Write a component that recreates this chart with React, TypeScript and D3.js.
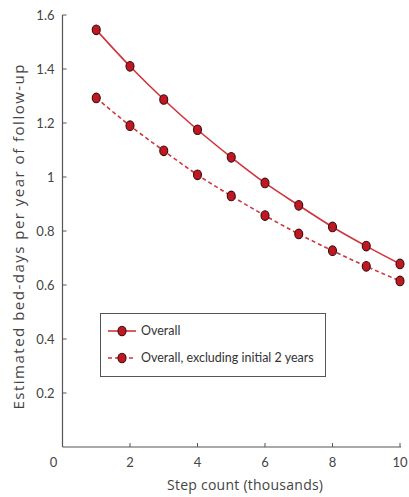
import React, { useEffect, useRef } from 'react';
import * as d3 from 'd3';

const stepCounts = [1, 2, 3, 4, 5, 6, 7, 8, 9, 10];
const overall = [1.545, 1.41, 1.287, 1.175, 1.073, 0.978, 0.895, 0.815, 0.744, 0.678];
const excluding = [1.293, 1.19, 1.097, 1.008, 0.93, 0.857, 0.789, 0.727, 0.669, 0.615];
const yTicks = [0.2, 0.4, 0.6, 0.8, 1, 1.2, 1.4, 1.6];
const xTicks = [2, 4, 6, 8, 10];
const seriesNames = ['Overall', 'Overall, excluding initial 2 years'];

const App = () => {
  const svgRef = useRef<SVGSVGElement>(null);

  useEffect(() => {
    const svg = d3.select(svgRef.current);
    svg.selectAll('*').remove();

    const left = 62.5;
    const right = 400;
    const top = 15;
    const bottom = 447;
    const font = 'Lato, "Open Sans", sans-serif';
    const titleFont = '"Open Sans", Lato, sans-serif';
    const axisColor = '#555';
    const textColor = '#444';
    const lineColor = '#d0343c';

    const x = d3.scaleLinear().domain([0, 10]).range([left, right]);
    const y = d3.scaleLinear().domain([0, 1.6]).range([bottom, top]);

    // axes
    svg.append('line')
      .attr('x1', left).attr('x2', left).attr('y1', top).attr('y2', bottom)
      .attr('stroke', axisColor).attr('stroke-width', 1.2);
    svg.append('line')
      .attr('x1', left).attr('x2', right + 1).attr('y1', bottom).attr('y2', bottom)
      .attr('stroke', axisColor).attr('stroke-width', 1.2);

    yTicks.forEach((t) => {
      svg.append('line')
        .attr('x1', left).attr('x2', left + 4).attr('y1', y(t)).attr('y2', y(t))
        .attr('stroke', axisColor);
      svg.append('text')
        .attr('x', left - 8).attr('y', y(t)).attr('dy', '0.35em')
        .attr('text-anchor', 'end').attr('font-family', font).attr('font-size', 13)
        .attr('fill', textColor).text(String(t));
    });

    xTicks.forEach((t) => {
      svg.append('line')
        .attr('x1', x(t)).attr('x2', x(t)).attr('y1', bottom).attr('y2', bottom - 4)
        .attr('stroke', axisColor);
      svg.append('text')
        .attr('x', x(t)).attr('y', bottom + 20)
        .attr('text-anchor', 'middle').attr('font-family', font).attr('font-size', 13)
        .attr('fill', textColor).text(String(t));
    });

    svg.append('text')
      .attr('x', left - 9).attr('y', bottom + 20)
      .attr('text-anchor', 'middle').attr('font-family', font).attr('font-size', 13)
      .attr('fill', textColor).text('0');

    svg.append('text')
      .attr('x', 245).attr('y', 490)
      .attr('text-anchor', 'middle').attr('font-family', titleFont).attr('font-size', 14)
      .attr('textLength', 156).attr('lengthAdjust', 'spacing')
      .attr('fill', textColor).text('Step count (thousands)');

    svg.append('text')
      .attr('transform', `translate(24,237) rotate(-90)`)
      .attr('text-anchor', 'middle').attr('font-family', titleFont).attr('font-size', 15)
      .attr('textLength', 345).attr('lengthAdjust', 'spacing')
      .attr('fill', textColor)
      .text('Estimated bed-days per year of follow-up');

    const line = d3.line<number>()
      .x((_, i) => x(stepCounts[i]))
      .y((d) => y(d))
      .curve(d3.curveMonotoneX);

    const series = [
      { values: overall, dash: null },
      { values: excluding, dash: '4,3' },
    ];

    series.forEach((s) => {
      svg.append('path')
        .datum(s.values)
        .attr('d', line)
        .attr('fill', 'none')
        .attr('stroke', lineColor)
        .attr('stroke-width', 1.6)
        .attr('stroke-dasharray', s.dash);
      svg.selectAll(null)
        .data(s.values)
        .enter()
        .append('ellipse')
        .attr('cx', (_, i) => x(stepCounts[i]))
        .attr('cy', (d) => y(d))
        .attr('rx', 4)
        .attr('ry', 4.8)
        .attr('fill', '#c01722')
        .attr('stroke', '#3a0d0d')
        .attr('stroke-width', 1.1);
    });

    // legend
    const lg = svg.append('g');
    lg.append('rect')
      .attr('x', 100.5).attr('y', 313.5).attr('width', 225).attr('height', 63)
      .attr('fill', '#fff').attr('stroke', '#555').attr('stroke-width', 1);
    seriesNames.forEach((name, i) => {
      const ly = 331 + i * 27;
      lg.append('line')
        .attr('x1', 108).attr('x2', 136).attr('y1', ly).attr('y2', ly)
        .attr('stroke', lineColor).attr('stroke-width', 1.6)
        .attr('stroke-dasharray', series[i].dash);
      lg.append('ellipse')
        .attr('cx', 122).attr('cy', ly).attr('rx', 4).attr('ry', 4.8)
        .attr('fill', '#c01722').attr('stroke', '#3a0d0d').attr('stroke-width', 1.1);
      lg.append('text')
        .attr('x', 141).attr('y', ly).attr('dy', '0.35em')
        .attr('font-family', font).attr('font-size', 12.5)
        .attr('fill', '#333').text(name);
    });
  }, []);

  return (
    <svg ref={svgRef} width={409} height={497} style={{ position: 'absolute', left: 0, top: 0 }}></svg>
  );
};

export default App;
